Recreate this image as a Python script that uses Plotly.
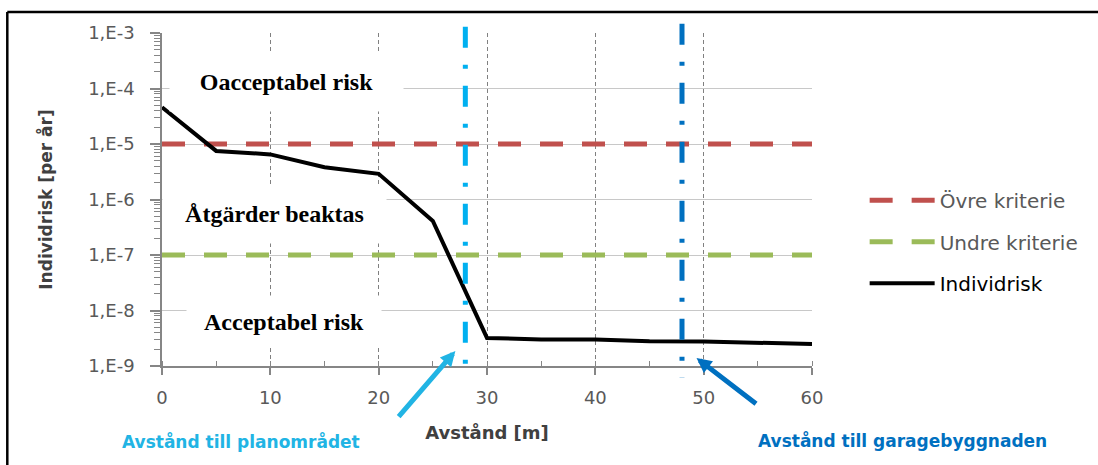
import plotly.graph_objects as go

# ---------------- data ----------------
distance_m = [0, 5, 10, 15, 20, 25, 30, 35, 40, 45, 50, 55, 60]
individrisk = [4.6e-5, 7.5e-6, 6.5e-6, 3.8e-6, 2.9e-6, 4.1e-7,
               3.2e-9, 3.0e-9, 3.0e-9, 2.8e-9, 2.75e-9, 2.65e-9, 2.5e-9]
kriterie_x = [0, 60]
ovre_kriterie = [1e-5, 1e-5]
undre_kriterie = [1e-7, 1e-7]

y_tickvals = [1e-9, 1e-8, 1e-7, 1e-6, 1e-5, 1e-4, 1e-3]
y_ticktext = ["1,E-9", "1,E-8", "1,E-7", "1,E-6", "1,E-5", "1,E-4", "1,E-3"]
y_minor_vals = [m * d for d in [1e-9, 1e-8, 1e-7, 1e-6, 1e-5, 1e-4] for m in range(2, 10)]
x_tickvals = [0, 10, 20, 30, 40, 50, 60]
x_ticktext = ["0", "10", "20", "30", "40", "50", "60"]

avstand_planomradet = 28
avstand_garage = 48

GRAY_TXT = "#595959"
AXIS_COL = "#868686"
FONT = "DejaVu Sans"

fig = go.Figure()

fig.add_trace(go.Scatter(
    x=kriterie_x, y=ovre_kriterie, mode="lines", name="Övre kriterie",
    legendgroup="a",
    line=dict(color="#C0504D", width=5, dash="23px,19px"),
))
fig.add_trace(go.Scatter(
    x=kriterie_x, y=undre_kriterie, mode="lines", name="Undre kriterie",
    legendgroup="b",
    line=dict(color="#9BBB59", width=5, dash="23px,19px"),
))
fig.add_trace(go.Scatter(
    x=distance_m, y=individrisk, mode="lines",
    name="<span style='color:#000000'>Individrisk</span>",
    legendgroup="c",
    line=dict(color="#000000", width=4),
))

# vertical distance markers (dash-dot)
for xv, col, ytop, ybot in [(avstand_planomradet, "#00B0F0", 1.019, -0.042),
                            (avstand_garage, "#0070C0", 1.028, -0.036)]:
    fig.add_shape(type="line", xref="x", yref="paper",
                  x0=xv, x1=xv, y0=ytop, y1=ybot,
                  line=dict(color=col, width=5, dash="21px,17px,4px,17px"))

# outer frame (top and left border)
fig.add_shape(type="line", xref="paper", yref="paper",
              x0=-0.238, x1=1.45, y0=1.063, y1=1.063,
              line=dict(color="#000000", width=2.5))
fig.add_shape(type="line", xref="paper", yref="paper",
              x0=-0.238, x1=-0.238, y0=1.063, y1=-0.32,
              line=dict(color="#000000", width=2.5))

# zone labels (white boxes hide the grid behind them)
serif = dict(family="Liberation Serif", size=24, color="#000000")
for txt, xv, ly, bw, bh in [("<b>Oacceptabel risk</b>", 11.48, -3.89, 213, 38),
                            ("<b>Åtgärder beaktas</b>", 10.4, -6.27, 203, 38),
                            ("<b>Acceptabel risk</b>", 11.25, -8.2, 174, 31)]:
    fig.add_annotation(x=xv, y=ly, xref="x", yref="y", text=txt,
                       showarrow=False, font=serif, bgcolor="#FFFFFF",
                       width=bw, height=bh, borderpad=10)

# arrows
fig.add_annotation(x=27.08, y=-8.73, xref="x", yref="y", text="",
                   showarrow=True, ax=-58, ay=67, arrowhead=2,
                   arrowsize=0.6, arrowwidth=5, arrowcolor="#21B4E4")
fig.add_annotation(x=49.34, y=-8.856, xref="x", yref="y", text="",
                   showarrow=True, ax=61, ay=47, arrowhead=2,
                   arrowsize=0.6, arrowwidth=5, arrowcolor="#0070C0")

# bottom labels
fig.add_annotation(x=0.122, y=-0.228, xref="paper", yref="paper",
                   xanchor="center", yanchor="middle",
                   text="<b>Avstånd till planområdet</b>", showarrow=False,
                   font=dict(family=FONT, size=17, color="#21B4E4"))
fig.add_annotation(x=1.14, y=-0.225, xref="paper", yref="paper",
                   xanchor="center", yanchor="middle",
                   text="<b>Avstånd till garagebyggnaden</b>", showarrow=False,
                   font=dict(family=FONT, size=17, color="#0070C0"))

fig.update_layout(
    width=1098, height=465,
    margin=dict(l=162, r=286, t=33, b=99),
    paper_bgcolor="#FFFFFF", plot_bgcolor="#FFFFFF",
    font=dict(family=FONT, size=17, color=GRAY_TXT),
    showlegend=True,
    legend=dict(x=1.081, y=0.556, xanchor="left", yanchor="top",
                font=dict(family=FONT, size=20, color=GRAY_TXT),
                traceorder="grouped", tracegroupgap=12.5,
                itemwidth=65, bgcolor="rgba(0,0,0,0)"),
    xaxis=dict(
        range=[0, 60], tickmode="array", tickvals=x_tickvals, ticktext=x_ticktext,
        showline=True, linecolor=AXIS_COL, linewidth=1.5,
        ticks="outside", ticklen=7, tickcolor=AXIS_COL, tickwidth=1.5,
        tickfont=dict(family=FONT, size=18, color=GRAY_TXT),
        ticklabelstandoff=8,
        showgrid=True, gridcolor="#808080", gridwidth=1, griddash="4px,3px",
        zeroline=False,
        minor=dict(ticks="inside", ticklen=5, tickcolor=AXIS_COL, tickwidth=1,
                   dtick=5, tick0=0, showgrid=False),
        title=dict(text="<b>Avstånd [m]</b>", standoff=19,
                   font=dict(family=FONT, size=18, color="#404040")),
    ),
    yaxis=dict(
        type="log", range=[-9, -3], tickmode="array",
        tickvals=y_tickvals, ticktext=y_ticktext,
        showline=True, linecolor=AXIS_COL, linewidth=1.5,
        ticks="outside", ticklen=10, tickcolor=AXIS_COL, tickwidth=1.5,
        tickfont=dict(family=FONT, size=18, color=GRAY_TXT),
        ticklabelstandoff=12,
        showgrid=True, gridcolor="#C8C8C8", gridwidth=1.3,
        zeroline=False,
        minor=dict(ticks="outside", ticklen=6, tickcolor=AXIS_COL, tickwidth=1,
                   tickmode="array", tickvals=y_minor_vals, showgrid=False),
        title=dict(text="<b>Individrisk [per år]</b>", standoff=31,
                   font=dict(family=FONT, size=17, color="#404040")),
    ),
    yaxis2=dict(
        type="log", range=[-9, -3], overlaying="y", side="left",
        showgrid=False, showticklabels=False, showline=False, zeroline=False,
        ticks="", tickmode="array", tickvals=y_tickvals,
        minor=dict(ticks="inside", ticklen=6, tickcolor=AXIS_COL, tickwidth=1,
                   tickmode="array", tickvals=y_minor_vals, showgrid=False),
    ),
)

fig.write_html("out.html",
               config={"displayModeBar": False},
               post_script="document.body.style.margin='0';")
